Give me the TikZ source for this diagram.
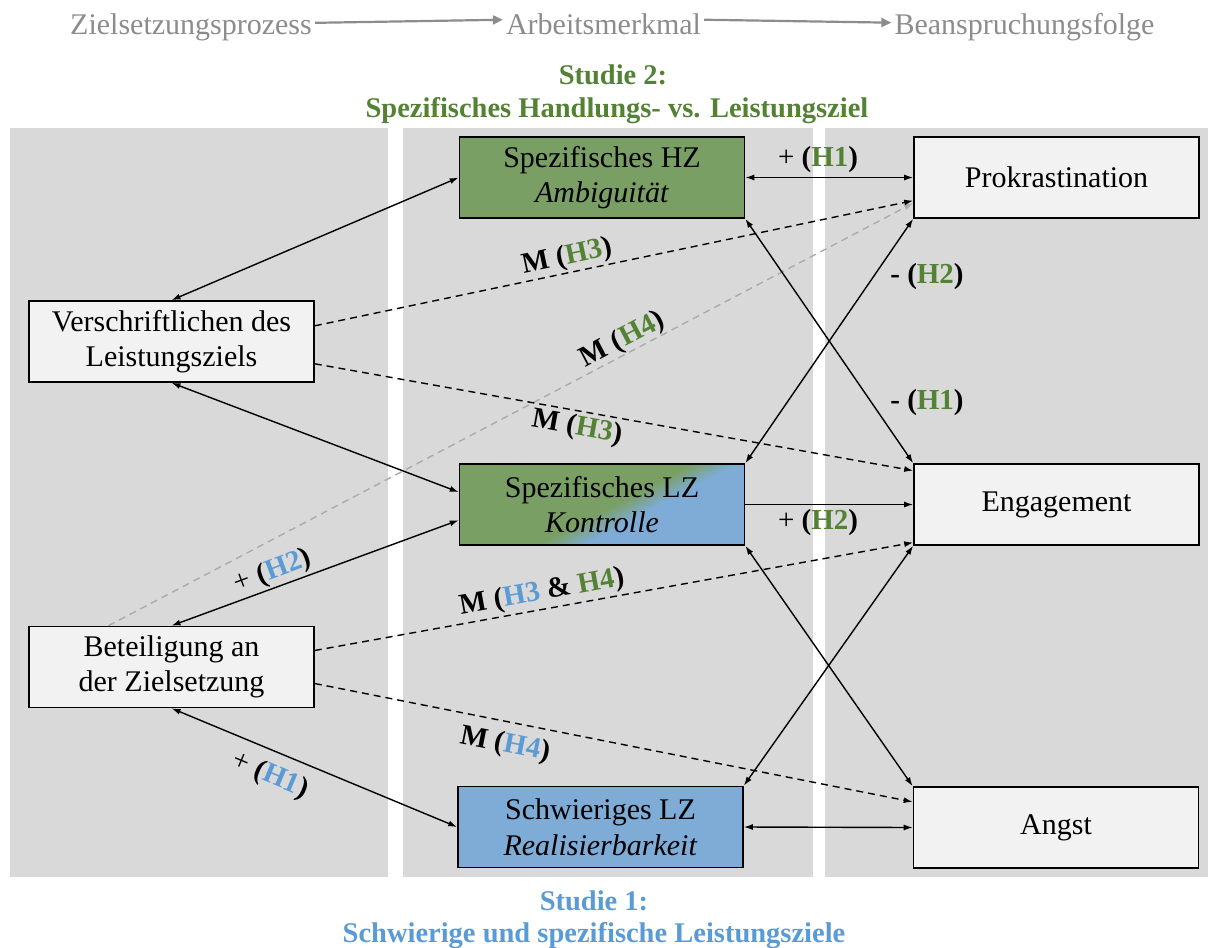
\documentclass[tikz,border=0pt]{standalone}
\usepackage{fontspec}
\setmainfont{Liberation Serif}
\usetikzlibrary{arrows.meta,calc}
\definecolor{panelgray}{HTML}{D9D9D9}
\definecolor{nodefill}{HTML}{F2F2F2}
\definecolor{hzgreen}{RGB}{122,159,101}
\definecolor{lzblue}{RGB}{126,172,215}
\definecolor{txtgreen}{HTML}{548235}
\definecolor{txtblue}{HTML}{5B9BD5}
\definecolor{hdrgray}{HTML}{8C8C8C}
\definecolor{lightline}{HTML}{ABABAB}
\pgfdeclareverticalshading{lzshade}{100bp}{color(0bp)=(lzblue); color(41bp)=(lzblue); color(48bp)=(hzgreen); color(100bp)=(hzgreen)}
\newcommand{\hgreen}[1]{\textcolor{txtgreen}{#1}}
\newcommand{\hblue}[1]{\textcolor{txtblue}{#1}}
\begin{document}
\begin{tikzpicture}[x=1pt,y=-1pt,
  panel/.style={fill=panelgray,draw=none},
  box/.style={draw=black,line width=1.6pt,minimum width=285pt,minimum height=81pt,inner sep=0pt,align=center,font=\fontsize{30}{35.5}\selectfont},
  greybox/.style={box,fill=nodefill},
  hdr/.style={text=hdrgray,font=\fontsize{30}{35}\selectfont,inner sep=3pt,anchor=base},
  hdrarrow/.style={draw=hdrgray,line width=2.2pt,-{Triangle[length=10pt,width=9pt]}},
  studie/.style={font=\fontsize{28.5}{33}\selectfont\bfseries,anchor=base,inner sep=0pt},
  bi/.style={line width=1.4pt,{Latex[length=9pt,width=6pt]}-{Latex[length=9pt,width=6pt]}},
  uni/.style={line width=1.4pt,-{Latex[length=9pt,width=6pt]}},
  dashedarrow/.style={line width=1.4pt,dash pattern=on 7pt off 5pt,-{Latex[length=9pt,width=6pt]}},
  graydash/.style={draw=lightline,line width=1.4pt,dash pattern=on 7pt off 5pt,-{Latex[length=9pt,width=6pt]}},
  lbl/.style={font=\fontsize{29}{33}\selectfont\bfseries,inner sep=1pt}
]
\useasboundingbox (0,0) rectangle (1208,948);
% panels
\fill[panel] (10,128) rectangle (388,877);
\fill[panel] (403,128) rectangle (813,877);
\fill[panel] (825,128) rectangle (1208,877);
% header
\node[hdr] (h1) at (191,34) {Zielsetzungsprozess};
\node[hdr] (h2) at (603.5,34) {Arbeitsmerkmal};
\node[hdr] (h3) at (1024.5,34) {Beanspruchungsfolge};
\draw[hdrarrow] ([yshift=4pt]h1.east) -- ([yshift=4pt]h2.west);
\draw[hdrarrow] ([yshift=4pt]h2.east) -- ([yshift=4pt]h3.west);
% study titles
\node[studie,text=txtgreen] (s2a) at (613,84) {Studie 2:};
\node[studie,text=txtgreen] (s2b) at (617,117) {Spezifisches Handlungs- vs. Leistungsziel};
\node[studie,text=txtblue] (s1a) at (594,910) {Studie 1:};
\node[studie,text=txtblue] (s1b) at (594,942) {Schwierige und spezifische Leistungsziele};
% nodes
\node[box,fill=hzgreen] (HZ) at (602,177.5) {Spezifisches HZ\\\textit{Ambiguität}};
\node[box,shading=lzshade,shading angle=27.7] (LZ) at (602,504.5) {Spezifisches LZ\\\textit{Kontrolle}};
\node[box,fill=lzblue] (SLZ) at (600.5,827) {Schwieriges LZ\\\textit{Realisierbarkeit}};
\node[greybox] (Prok) at (1056.5,177.5) {Prokrastination};
\node[greybox] (Eng) at (1056.5,504.5) {Engagement};
\node[greybox] (Angst) at (1056,827.5) {Angst};
\node[greybox] (Ver) at (171.5,341.5) {Verschriftlichen des\\Leistungsziels};
\node[greybox] (Bet) at (171.5,667) {Beteiligung an\\der Zielsetzung};
% connectors
\draw[graydash] ($(Bet.north west)!0.28!(Bet.north east)$) -- ($(Prok.north west)!0.81!(Prok.south west)$);
\draw[bi] (Ver.north) -- (HZ.west);
\draw[bi] (Ver.south) -- ($(LZ.north west)!0.35!(LZ.south west)$);
\draw[bi] (Bet.north) -- ($(LZ.north west)!0.69!(LZ.south west)$);
\draw[bi] (Bet.south) -- (SLZ.west);
\draw[bi] (HZ.east) -- (Prok.west);
\draw[uni] (LZ.east) -- (Eng.west);
\draw[bi] (SLZ.east) -- (Angst.west);
\draw[bi] (HZ.south east) -- (Eng.north west);
\draw[bi] (LZ.north east) -- (Prok.south west);
\draw[bi] (LZ.south east) -- (Angst.north west);
\draw[bi] (SLZ.north east) -- (Eng.south west);
\draw[dashedarrow] ($(Ver.north east)!0.31!(Ver.south east)$) -- ($(Prok.north west)!0.78!(Prok.south west)$);
\draw[dashedarrow] ($(Ver.north east)!0.77!(Ver.south east)$) -- ($(Eng.north west)!0.09!(Eng.south west)$);
\draw[dashedarrow] ($(Bet.north east)!0.3!(Bet.south east)$) -- ($(Eng.north west)!0.96!(Eng.south west)$);
\draw[dashedarrow] ($(Bet.north east)!0.7!(Bet.south east)$) -- ($(Angst.north west)!0.19!(Angst.south west)$);
% labels
\node[lbl,rotate=20.5] (l1) at (273,572) {\textmd{+} (\hblue{H2})};
\node[lbl,rotate=-22.8] (l2) at (270,776) {\textmd{+} (\hblue{H1})};
\node[lbl,rotate=12] (l3) at (567,257) {M (\hgreen{H3})};
\node[lbl,rotate=27.7] (l4) at (623,340) {M (\hgreen{H4})};
\node[lbl,rotate=-10.2] (l5) at (577,428) {M (\hgreen{H3})};
\node[lbl,rotate=10.3] (l6) at (542,593) {M (\hblue{H3} \& \hgreen{H4})};
\node[lbl,rotate=-11.2] (l7) at (505,745) {M (\hblue{H4})};
\node[lbl] (l8) at (818,160) {\textmd{+} (\hgreen{H1})};
\node[lbl] (l9) at (818,523) {\textmd{+} (\hgreen{H2})};
\node[lbl] (l10) at (927,277) {- (\hgreen{H2})};
\node[lbl] (l11) at (927,403) {- (\hgreen{H1})};
\end{tikzpicture}
\end{document}
